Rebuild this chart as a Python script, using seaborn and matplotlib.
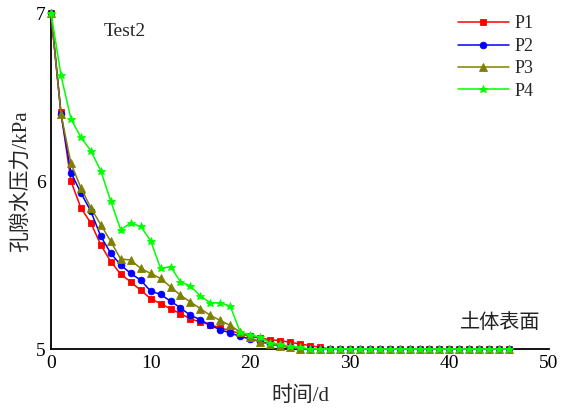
import numpy as np
import pandas as pd
import matplotlib
matplotlib.use("Agg")
import matplotlib.pyplot as plt
import seaborn as sns

# Pore water pressure (kPa) at four points, recorded daily from day 0 to day 46
days = list(range(47))
p1 = [7.0, 6.41, 6.00, 5.84, 5.75, 5.62, 5.52, 5.445, 5.40, 5.35, 5.30, 5.27, 5.24, 5.21,
      5.18, 5.16, 5.145, 5.125, 5.11, 5.09, 5.075, 5.065, 5.055, 5.05, 5.04, 5.03, 5.02,
      5.01] + [5.0] * 19
p2 = [7.0, 6.40, 6.05, 5.93, 5.82, 5.67, 5.57, 5.50, 5.45, 5.41, 5.345, 5.325, 5.285,
      5.245, 5.20, 5.175, 5.14, 5.115, 5.095, 5.075, 5.06, 5.045, 5.03, 5.02,
      5.01] + [5.0] * 22
p3 = [7.0, 6.40, 6.105, 5.96, 5.84, 5.74, 5.64, 5.535, 5.53, 5.48, 5.45, 5.42, 5.37,
      5.32, 5.28, 5.24, 5.20, 5.17, 5.14, 5.10, 5.07, 5.04, 5.03, 5.02,
      5.01] + [5.0] * 22
p4 = [7.0, 6.63, 6.37, 6.26, 6.18, 6.06, 5.88, 5.71, 5.75, 5.73, 5.645, 5.48, 5.49,
      5.40, 5.375, 5.315, 5.275, 5.275, 5.255, 5.10, 5.085, 5.07, 5.035, 5.03, 5.015,
      5.01] + [5.0] * 21

series_names = ["P1", "P2", "P3", "P4"]
series_values = [p1, p2, p3, p4]
colors = {"P1": "#ff0000", "P2": "#0000ff", "P3": "#808000", "P4": "#00ff00"}
markers = {"P1": "s", "P2": "o", "P3": "^", "P4": "*"}
msizes = {"P1": 4.0, "P2": 4.8, "P3": 5.4, "P4": 6.2}

x_ticks = [0, 10, 20, 30, 40, 50]
y_ticks = [5, 6, 7]

df = pd.DataFrame({
    "day": np.tile(days, len(series_names)),
    "pressure": np.concatenate(series_values),
    "point": np.repeat(series_names, len(days)),
})

sns.set_style("white")
plt.rcParams["font.family"] = ["Liberation Serif", "Noto Sans CJK SC"]
plt.rcParams["axes.unicode_minus"] = False

fig = plt.figure(figsize=(5.61, 4.12), dpi=100)
ax = fig.add_axes([51 / 561, 1 - 349 / 412, 498 / 561, 336 / 412])

for name in series_names:
    sub = df[df["point"] == name]
    sns.lineplot(data=sub, x="day", y="pressure", ax=ax, color=colors[name],
                 marker=markers[name], markersize=msizes[name],
                 markeredgewidth=0.6, markeredgecolor=colors[name],
                 linewidth=1.1, label=name, clip_on=False, zorder=3)

ax.set_xlim(0, 50)
ax.set_ylim(5, 7)
ax.set_xticks(x_ticks)
ax.set_yticks(y_ticks)
ax.tick_params(direction="in", length=5, width=1.2, labelsize=14, colors="black",
               pad=4)

for side in ["top", "right"]:
    ax.spines[side].set_visible(False)
for side in ["left", "bottom"]:
    ax.spines[side].set_color("black")
    ax.spines[side].set_linewidth(1.3)

ax.set_xlabel("时间/d", fontsize=15, labelpad=11)
ax.set_ylabel("孔隙水压力/kPa", fontsize=15, labelpad=3)

ax.text(0.105, 0.945, "Test2", transform=ax.transAxes, fontsize=14, ha="left", va="center")
ax.text(0.982, 0.075, "土体表面", transform=ax.transAxes, fontsize=14.5, ha="right",
        va="center", color="#222222")

leg = ax.legend(loc="upper right", bbox_to_anchor=(0.99, 1.025), frameon=False, fontsize=13,
                handlelength=2.8, handletextpad=0.3, labelspacing=0.3, borderaxespad=0.2)

fig.savefig("out.png", dpi=100)
